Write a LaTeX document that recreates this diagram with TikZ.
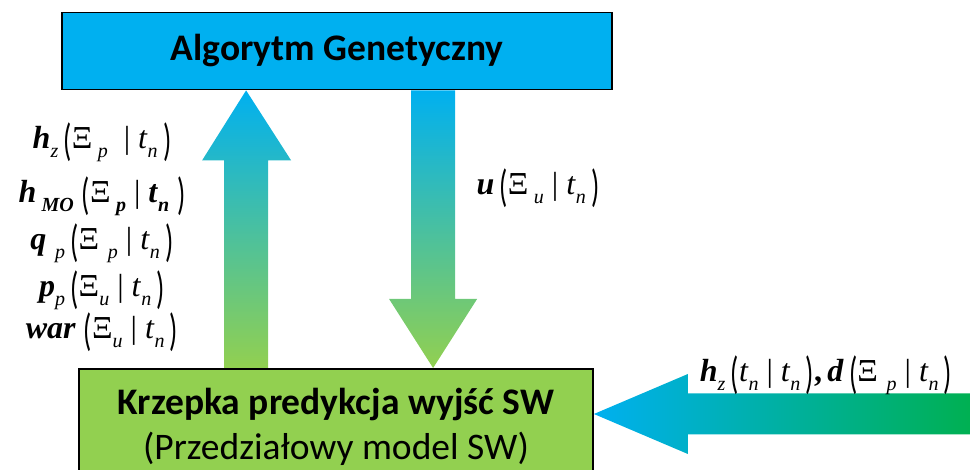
\documentclass[tikz,border=0pt]{standalone}
\usepackage{fontspec}
\usepackage{graphicx}
\setmainfont{Carlito}
\newfontfamily\tms{Liberation Serif}
\usetikzlibrary{calc}
\definecolor{agblue}{HTML}{00B0F0}
\definecolor{swgreen}{HTML}{92D050}
\definecolor{feedgreen}{HTML}{00B050}
\newcommand{\bi}[1]{\textbf{\textit{#1}}}
\newcommand{\sbi}[1]{\raisebox{-0.27em}{\fontsize{20}{20}\selectfont\textit{#1}}}
\newcommand{\sbb}[1]{\raisebox{-0.27em}{\fontsize{20}{20}\selectfont\bi{#1}}}
\newcommand{\tp}[1]{\raisebox{-0.2em}{\scalebox{0.85}[1.4]{\textnormal{#1}}}}
\tikzset{
    agbox/.style={rectangle, draw=black, line width=1.8pt, fill=agblue, minimum width=550pt, minimum height=77pt, inner sep=0pt, font=\fontsize{37.5}{42}\selectfont\bfseries},
    swbox/.style={rectangle, draw=black, line width=1.8pt, fill=swgreen, minimum width=514pt, minimum height=124pt, inner sep=0pt},
    swtext/.style={align=center, inner sep=0pt, font=\fontsize{37.5}{45}\selectfont},
    eqlabel/.style={font=\tms\fontsize{32}{47}\selectfont, align=center, inner sep=0pt}
}

\begin{document}
\begin{tikzpicture}[x=1pt, y=-1pt]
  \useasboundingbox (0,0) rectangle (970,470);
  \node[agbox] (ga) at (337,51) {Algorytm Genetyczny};
  \node[swbox, anchor=north] (sw) at (336,368) {};
  \node[swtext] (swlbl) at ($(sw.north)+(0,59)$) {\textbf{Krzepka predykcja wyjść SW}\\(Przedziałowy model SW)};
  \coordinate (uptip) at ($(ga.south west)+(185,0)$);
  \coordinate (upfoot) at (uptip |- sw.north);
  \coordinate (dntop) at ($(ga.south west)+(372,0)$);
  \coordinate (dntip) at (dntop |- sw.north);
  \coordinate (feed) at (975,414);
  \coordinate (feedtip) at (feed -| sw.east);
  % model -> GA
  \shade[top color=agblue, bottom color=swgreen]
    ($(upfoot)+(-22,0)$) -- ($(uptip)+(-22,70)$) -- ($(uptip)+(-44,70)$) -- (uptip)
    -- ($(uptip)+(45,70)$) -- ($(uptip)+(22,70)$) -- ($(upfoot)+(22,0)$) -- cycle;
  % GA -> model
  \shade[top color=agblue, bottom color=swgreen]
    ($(dntop)+(-22,0)$) -- ($(dntip)+(-22,-69)$) -- ($(dntip)+(-44,-69)$) -- (dntip)
    -- ($(dntip)+(44,-69)$) -- ($(dntip)+(22,-69)$) -- ($(dntop)+(22,0)$) -- cycle;
  % input
  \shade[left color=agblue, right color=feedgreen]
    ($(feed)+(0,-20.5)$) -- ($(feedtip)+(94,-20.5)$) -- ($(feedtip)+(94,-40)$) -- (feedtip)
    -- ($(feedtip)+(94,40)$) -- ($(feedtip)+(94,20.5)$) -- ($(feed)+(0,20.5)$) -- cycle;
  \node[eqlabel] (outlbl) at (102,237) {%
    \bi{h}\sbi{z}\,\tp{(}Ξ\,\sbi{p}\ \ | \textit{t}\sbi{n}\,\tp{)}\\[7pt]
    \bi{h}\,\sbb{MO}\ \tp{(}Ξ\,\sbb{p}\ | \bi{t}\sbb{n}\ \tp{)}\\
    \bi{q}\,\sbi{\,p}\,\tp{(}Ξ\,\sbi{\,p}\ | \textit{t}\sbi{n}\,\tp{)}\\
    \bi{p}\sbi{p}\,\tp{(}Ξ\sbi{u}\ | \textit{t}\sbi{n}\,\tp{)}\\[-5pt]
    \bi{war}\ \tp{(}Ξ\sbi{u}\ | \textit{t}\sbi{n}\,\tp{)}};
  \node[eqlabel, anchor=base] (ulbl) at (538,195) {\bi{u}\,\tp{(}Ξ\,\sbi{u}\ | \textit{t}\sbi{n}\,\tp{)}};
  \node[eqlabel, anchor=base] (inlbl) at (826,382) {\bi{h}\sbi{z}\,\tp{(}\textit{t}\sbi{n}\ | \textit{t}\sbi{n}\,\tp{)}\textbf{,}\,\bi{d}\,\tp{(}Ξ\,\sbi{\,p}\ | \textit{t}\sbi{n}\,\tp{)}};
\end{tikzpicture}
\end{document}
